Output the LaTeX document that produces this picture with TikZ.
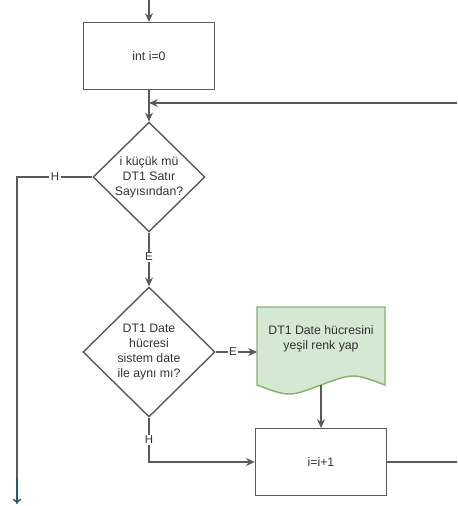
\documentclass[tikz,border=0pt]{standalone}
\usepackage{fontspec}
\setmainfont{Liberation Sans}
\usepackage{tikz}
\usetikzlibrary{shapes.geometric}
\usetikzlibrary{arrows.meta}
\usepackage{xcolor}

\definecolor{edgegray}{HTML}{5A5A5A}
\definecolor{docfill}{HTML}{D5E8D4}
\definecolor{docline}{HTML}{82B366}
\definecolor{exitteal}{HTML}{1F5F6B}

\begin{document}
\begin{tikzpicture}[x = 0.02cm, y = -0.02cm,
    font = \fontsize{7}{8.5}\selectfont,
    every node/.style = {text = black!80},
    process/.style = {draw = edgegray, line width = 0.8pt, fill = white,
        minimum width = 2.62cm, minimum height = 1.33cm, inner sep = 0pt},
    decision/.style = {draw = edgegray, line width = 0.8pt, fill = white,
        diamond, aspect = 1, inner sep = 0pt, align = center},
    flow/.style = {draw = edgegray, line width = 0.8pt,
        -{Stealth[length = 5pt, width = 4.5pt]}},
    plain/.style = {draw = edgegray, line width = 0.8pt},
    answer/.style = {fill = white, inner sep = 0.8pt,
        font = \fontsize{6.5}{7}\selectfont}]

    \useasboundingbox (0,0) rectangle (457,506);

    \coordinate (start) at (149,0);
    \coordinate (loopin) at (457,103);
    \coordinate (loopout) at (457,462);
    \coordinate (exitturn) at (17,177);
    \coordinate (exitmid) at (17,478);
    \coordinate (exitend) at (17,504);

    \node[process] (init) at (149,56) {int i=0};

    \node[decision, minimum width = 2.24cm, minimum height = 2.14cm] (check) at (149,177)
        {i küçük mü\\DT1 Satır\\Sayısından?};

    \node[decision, minimum width = 2.64cm, minimum height = 2.6cm] (same) at (149,352)
        {DT1 Date\\hücresi\\sistem date\\ile aynı mı?};

    % green document shape
    \filldraw[draw = docline, fill = docfill, line width = 0.8pt]
        (257,307) -- (385,307) -- (385,385)
        .. controls (353,373) .. (321,385)
        .. controls (289,397) .. (257,385) -- cycle;
    \node[align = center] (paint) at (321,339) {DT1 Date hücresini\\yeşil renk yap};
    \coordinate (paintbot) at (321,385);
    \coordinate (paintin) at (257,352);

    \node[process] (incr) at (321,462) {i=i+1};

    \draw[flow] (start) -- (init);
    \draw[flow] (init) -- (check);
    \draw[flow] (loopin) -- (loopin -| init.south);

    \draw[plain] (check.west) -- (exitturn) -- (exitmid);
    \draw[draw = exitteal, line width = 0.8pt, -{To[length = 3pt, width = 5pt]}] (exitmid) -- (exitend);

    \draw[flow] (check) -- (same);
    \draw[flow] (same.east) -- (paintin);
    \draw[flow] (paintbot) -- (incr);
    \draw[flow] (same.south) -- (same.south |- incr.west) -- (incr.west);
    \draw[plain] (incr.east) -- (loopout);

    \node[answer] (noA) at (55,177) {H};
    \node[answer] (yesA) at (149,257) {E};
    \node[answer] (yesB) at (233,352) {E};
    \node[answer] (noB) at (149,440) {H};

\end{tikzpicture}
\end{document}
